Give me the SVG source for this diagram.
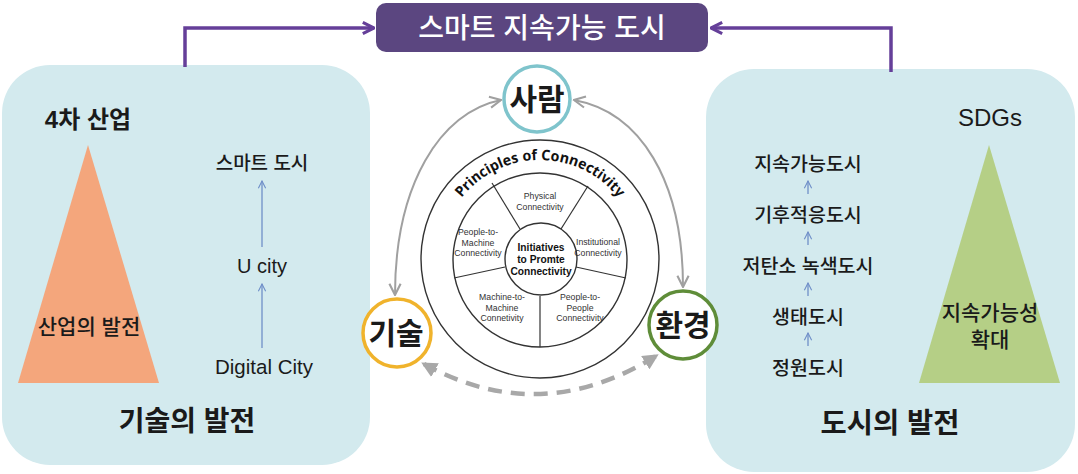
<svg xmlns="http://www.w3.org/2000/svg" width="1078" height="474" viewBox="0 0 1078 474">
<defs>
<style>
.panel{fill:#d3eaee}
.k{font-family:"Liberation Sans","Noto Sans CJK KR",sans-serif;fill:#1a1a1a;text-anchor:middle}
.m{font-weight:500}
.b{font-weight:bold}
.w{font-family:"Liberation Sans",Arial,sans-serif;fill:#333;text-anchor:middle;font-size:8.7px}
.wb{font-family:"Liberation Sans",Arial,sans-serif;fill:#111;text-anchor:middle;font-size:10.2px;font-weight:bold}
.arc{font-family:"Noto Sans",sans-serif;font-weight:bold;font-size:14.5px;fill:#111}
.purple{fill:none;stroke:#653f99;stroke-width:3.5}
.gray{fill:none;stroke:#a0a0a0;stroke-width:2}
.dash{fill:none;stroke:#a8a8a8;stroke-width:4.5;stroke-dasharray:14 9}
.blue{fill:none;stroke:#6f8fc8;stroke-width:1.3}
.wheel{fill:#fff;stroke:#333;stroke-width:1.4}
.spoke{stroke:#333;stroke-width:1.2}
</style>
<marker id="ap" viewBox="0 0 10 10" refX="9" refY="5" markerWidth="4" markerHeight="4" orient="auto-start-reverse"><path d="M1 1 L9 5 L1 9" fill="none" stroke="#653f99" stroke-width="2.2"/></marker>
<marker id="ag" viewBox="0 0 10 10" refX="9" refY="5" markerWidth="7" markerHeight="7" orient="auto-start-reverse"><path d="M1 1 L9 5 L1 9" fill="none" stroke="#a0a0a0" stroke-width="1.5"/></marker>
<marker id="ad" viewBox="0 0 10 10" refX="8" refY="5" markerWidth="3.5" markerHeight="3.5" orient="auto-start-reverse"><path d="M0 0 L10 5 L0 10 Z" fill="#a8a8a8"/></marker>
<marker id="ab" viewBox="0 0 10 10" refX="9" refY="5" markerWidth="7" markerHeight="7" orient="auto"><path d="M1 1 L9 5 L1 9" fill="none" stroke="#6f8fc8" stroke-width="1.2"/></marker>
<path id="arcP" d="M 453.4 210 A 100 100 0 0 1 626.6 210" fill="none"/>
</defs>
<rect width="1078" height="474" fill="#fff"/>

<g id="left-panel">
<rect class="panel" x="2" y="65" width="368" height="400" rx="48"/>
<text class="k b" x="88" y="128" font-size="24">4차 산업</text>
<polygon points="88,145 18,383 159,383" fill="#f4a67c"/>
<text class="k m" x="89" y="334" font-size="21">산업의 발전</text>
<text class="k m" x="262" y="170" font-size="19">스마트 도시</text>
<text class="k" x="262" y="273" font-size="20">U city</text>
<text class="k" x="264" y="374" font-size="20.5">Digital City</text>
<line class="blue" x1="262" y1="247" x2="262" y2="181" marker-end="url(#ab)"/>
<line class="blue" x1="262" y1="348" x2="262" y2="284" marker-end="url(#ab)"/>
<text class="k b" x="187" y="431" font-size="28">기술의 발전</text>
</g>

<g id="right-panel">
<rect class="panel" x="706" y="69" width="369" height="403" rx="48"/>
<text class="k m" x="990" y="126" font-size="24">SDGs</text>
<polygon points="989,145 919,383 1060,383" fill="#b5cf86"/>
<text class="k m" x="990" y="320" font-size="21">지속가능성</text>
<text class="k m" x="990" y="347" font-size="21">확대</text>
<text class="k m" x="808" y="171" font-size="19.5">지속가능도시</text>
<text class="k m" x="808" y="222" font-size="19.5">기후적응도시</text>
<text class="k m" x="808" y="273" font-size="19.5">저탄소 녹색도시</text>
<text class="k m" x="808" y="324" font-size="19.5">생태도시</text>
<text class="k m" x="808" y="375" font-size="19.5">정원도시</text>
<line class="blue" x1="808" y1="194" x2="808" y2="181" marker-end="url(#ab)"/>
<line class="blue" x1="808" y1="245" x2="808" y2="232" marker-end="url(#ab)"/>
<line class="blue" x1="808" y1="296" x2="808" y2="283" marker-end="url(#ab)"/>
<line class="blue" x1="808" y1="346" x2="808" y2="333" marker-end="url(#ab)"/>
<text class="k b" x="890" y="433" font-size="28.5">도시의 발전</text>
</g>

<g id="title">
<rect x="376" y="3" width="332" height="49" rx="10" fill="#5b4680"/>
<text class="k" x="542" y="38" font-size="28" style="fill:#fff;font-weight:500">스마트 지속가능 도시</text>
</g>

<g id="wheel">
<circle class="wheel" cx="540" cy="259" r="119"/>
<circle class="wheel" cx="540" cy="260" r="87"/>
<line class="spoke" x1="492" y1="183" x2="520" y2="229"/>
<line class="spoke" x1="588" y1="186" x2="561" y2="229"/>
<line class="spoke" x1="576" y1="267" x2="626" y2="278"/>
<line class="spoke" x1="505" y1="267" x2="454" y2="278"/>
<line class="spoke" x1="540" y1="296" x2="540" y2="347"/>
<circle class="wheel" cx="541" cy="259" r="36"/>
<text class="arc"><textPath href="#arcP" startOffset="14.7" textLength="69" lengthAdjust="spacingAndGlyphs">Principles</textPath></text>
<text class="arc"><textPath href="#arcP" startOffset="87.5" textLength="14.4" lengthAdjust="spacingAndGlyphs">of</textPath></text>
<text class="arc"><textPath href="#arcP" startOffset="105.6" textLength="36.5" lengthAdjust="spacingAndGlyphs">Conn</textPath></text>
<text class="arc"><textPath href="#arcP" startOffset="142.1" textLength="52.5" lengthAdjust="spacingAndGlyphs">ectivity</textPath></text>
<text class="w" x="540" y="199">Physical</text>
<text class="w" x="540" y="209.5">Connectivity</text>
<text class="w" x="598" y="245">Institutional</text>
<text class="w" x="598" y="255.5">Connectivity</text>
<text class="w" x="478" y="235">People-to-</text>
<text class="w" x="478" y="245.5">Machine</text>
<text class="w" x="478" y="256">Connectivity</text>
<text class="wb" x="541" y="251">Initiatives</text>
<text class="wb" x="541" y="263">to Promte</text>
<text class="wb" x="541" y="275">Connectivity</text>
<text class="w" x="502" y="300">Machine-to-</text>
<text class="w" x="502" y="310.5">Machine</text>
<text class="w" x="502" y="321">Connetivity</text>
<text class="w" x="580" y="300">People-to-</text>
<text class="w" x="580" y="310.5">People</text>
<text class="w" x="580" y="321">Connectivity</text>
</g>

<g id="connectors">
<path class="purple" d="M 185 67 L 185 28 L 374 28" marker-end="url(#ap)"/>
<path class="purple" d="M 891 72 L 891 28 L 711 28" marker-end="url(#ap)"/>
<path class="gray" d="M 501 100 C 440 112 395 185 395 295" marker-start="url(#ag)" marker-end="url(#ag)"/>
<path class="gray" d="M 574 100 C 640 112 683 180 683 287" marker-start="url(#ag)" marker-end="url(#ag)"/>
<path class="dash" d="M 424 364 Q 540 428 656 356" marker-start="url(#ad)" marker-end="url(#ad)"/>
</g>

<g id="node-saram">
<circle cx="537" cy="99" r="33" fill="#fff" stroke="#7fc4cc" stroke-width="3.5"/>
<text class="k b" x="537" y="110" font-size="30">사람</text>
</g>
<g id="node-gisul">
<circle cx="397" cy="333" r="34" fill="#fff" stroke="#f0b32c" stroke-width="3.5"/>
<text class="k b" x="396" y="344" font-size="30">기술</text>
</g>
<g id="node-hwangyeong">
<circle cx="683" cy="325" r="34" fill="#fff" stroke="#5f8d39" stroke-width="3.5"/>
<text class="k b" x="683" y="336" font-size="30">환경</text>
</g>
</svg>
